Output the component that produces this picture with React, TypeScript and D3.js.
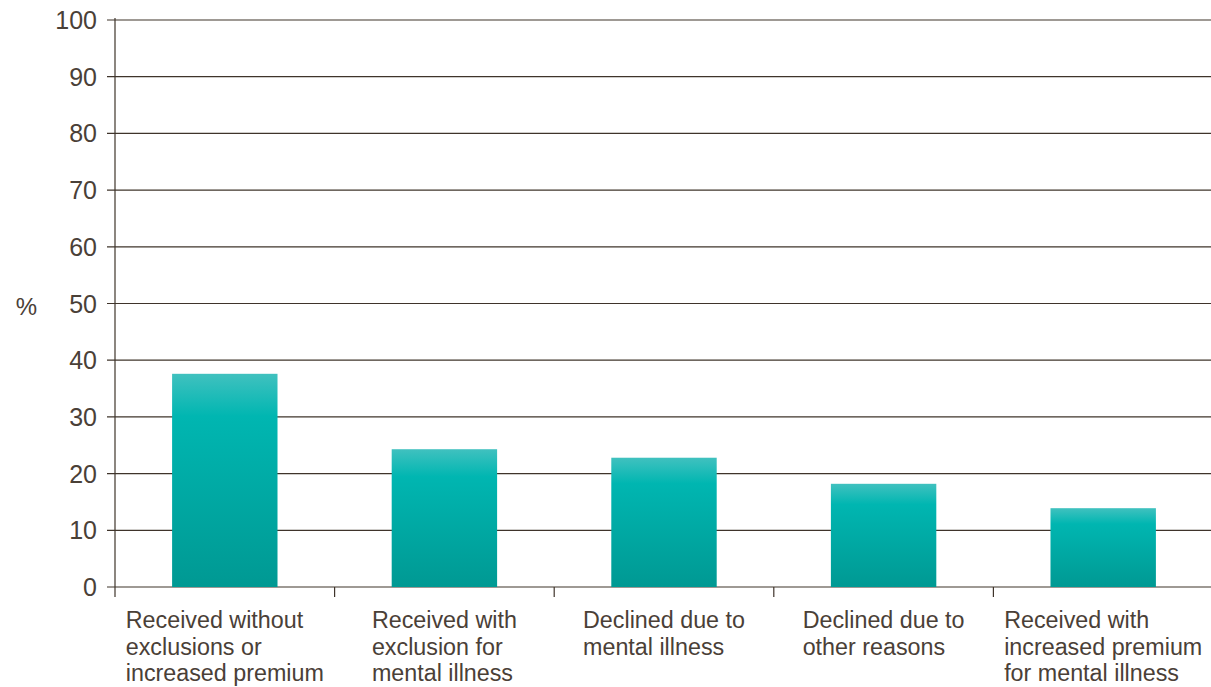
import React, { useEffect, useRef } from "react";
import * as d3 from "d3";

const categories: string[][] = [
  ["Received without", "exclusions or", "increased premium"],
  ["Received with", "exclusion for", "mental illness"],
  ["Declined due to", "mental illness"],
  ["Declined due to", "other reasons"],
  ["Received with", "increased premium", "for mental illness"],
];
const values: number[] = [37.6, 24.3, 22.8, 18.2, 13.9];
const yTicks: number[] = [0, 10, 20, 30, 40, 50, 60, 70, 80, 90, 100];
const yLabel = "%";

const W = 1211;
const H = 687;
const M = { left: 115, right: -2, top: 20, bottom: 100 };
const TEXT = "#4a4037";
const GRID = "#3f342b";
const FONT = "'Liberation Sans', Arial, Helvetica, sans-serif";

export default function App() {
  const ref = useRef<SVGSVGElement | null>(null);
  useEffect(() => {
    const svg = d3.select(ref.current);
    svg.selectAll("*").remove();
    const keys = categories.map((_, i) => String(i));
    const x = d3.scaleBand<string>().domain(keys).range([M.left, W - M.right]).paddingInner(0.52).paddingOuter(0.26);
    const xb = d3.scaleBand<string>().domain(keys).range([M.left, W - M.right]);
    const y = d3.scaleLinear().domain([0, 100]).range([H - M.bottom, M.top]);

    const defs = svg.append("defs");
    const g = defs.append("linearGradient").attr("id", "barGrad").attr("x1", 0).attr("y1", 0).attr("x2", 0).attr("y2", 1);
    g.append("stop").attr("offset", "0").attr("stop-color", "#40c1bf");
    g.append("stop").attr("offset", "0.2").attr("stop-color", "#00b6b1");
    g.append("stop").attr("offset", "1").attr("stop-color", "#009993");

    // gridlines
    svg.append("g").selectAll("line").data(yTicks).join("line")
      .attr("x1", M.left - 8).attr("x2", W).attr("y1", (d) => y(d)).attr("y2", (d) => y(d))
      .attr("stroke", GRID).attr("stroke-width", 1.2);

    // bars
    svg.append("g").selectAll("rect").data(values).join("rect")
      .attr("x", (_, i) => x(String(i))!).attr("width", x.bandwidth())
      .attr("y", (d) => y(d)).attr("height", (d) => y(0) - y(d))
      .attr("fill", "url(#barGrad)");

    // y axis line
    svg.append("line").attr("x1", M.left).attr("x2", M.left).attr("y1", y(100) - 2).attr("y2", y(0) + 10)
      .attr("stroke", GRID).attr("stroke-width", 1.2);
    // x axis ticks at band boundaries
    const bounds = keys.map((k) => xb(k)!).concat([xb(keys[keys.length - 1])! + xb.bandwidth()]);
    svg.append("g").selectAll("line").data(bounds.slice(1)).join("line")
      .attr("x1", (d) => d).attr("x2", (d) => d).attr("y1", y(0)).attr("y2", y(0) + 10)
      .attr("stroke", GRID).attr("stroke-width", 1.2);

    // y tick labels
    svg.append("g").selectAll("text").data(yTicks).join("text")
      .attr("x", M.left - 18).attr("y", (d) => y(d)).attr("dy", "0.36em")
      .attr("text-anchor", "end").attr("font-family", FONT).attr("font-size", 25).attr("fill", TEXT)
      .text((d) => String(d));

    svg.append("text").attr("x", 26.5).attr("y", y(50) + 3).attr("dy", "0.36em").attr("text-anchor", "middle")
      .attr("font-family", FONT).attr("font-size", 24).attr("fill", TEXT).text(yLabel);

    // category labels: block centered on band, lines left-aligned
    categories.forEach((lines, i) => {
      const cx = xb(String(i))! + xb.bandwidth() / 2;
      const t = svg.append("text").attr("font-family", FONT).attr("font-size", 23.3).attr("fill", TEXT);
      lines.forEach((ln, j) => {
        t.append("tspan").attr("x", 0).attr("y", y(0) + 41 + j * 26.7).text(ln);
      });
      const bb = (t.node() as SVGTextElement).getBBox();
      t.attr("transform", `translate(${cx - bb.width / 2},0)`);
    });
  }, []);
  return <svg ref={ref} width={W} height={H} style={{ display: "block", position: "absolute", left: 0, top: 0 }} />;
}
